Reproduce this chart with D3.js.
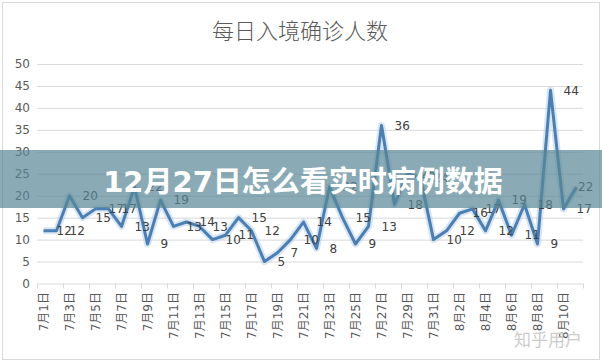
<!DOCTYPE html>
<html>
  <head>
    <meta charset="utf-8">
    <title>每日入境确诊人数</title>
    <script src="https://d3js.org/d3.v7.min.js"></script>
    <style>
      body { margin: 0; background: #fff; }
      svg { display: block; }
      text { font-family: "DejaVu Sans", "Noto Sans CJK SC", sans-serif; }
    </style>
  </head>
  <body>
    <div id="chart"></div>
    <script>
      // categories (every day, labels shown every other day)
      var dates = [
        "7月1日", "7月2日", "7月3日", "7月4日", "7月5日", "7月6日", "7月7日",
        "7月8日", "7月9日", "7月10日", "7月11日", "7月12日", "7月13日", "7月14日",
        "7月15日", "7月16日", "7月17日", "7月18日", "7月19日", "7月20日", "7月21日",
        "7月22日", "7月23日", "7月24日", "7月25日", "7月26日", "7月27日", "7月28日",
        "7月29日", "7月30日", "7月31日", "8月1日", "8月2日", "8月3日", "8月4日",
        "8月5日", "8月6日", "8月7日", "8月8日", "8月9日", "8月10日", "8月11日"
      ];

      // daily imported cases
      var cases = [
        12, 12, 20, 15, 17, 17, 13, 22, 9, 19, 13, 14, 13, 10,
        11, 15, 12, 5, 7, 10, 14, 8, 22, 15, 9, 13, 36, 18,
        25, 24, 10, 12, 16, 17, 12, 19, 11, 18, 9, 44, 17, 22
      ];

      var yTicks = [0, 5, 10, 15, 20, 25, 30, 35, 40, 45, 50];

      var title = "每日入境确诊人数";
      var banner = "12月27日怎么看实时病例数据";

      var svg = d3.select("#chart")
        .append("svg")
        .attr("width", 602)
        .attr("height", 362);

      // chart frame
      svg.append("rect")
        .attr("x", 2.5).attr("y", 2.5)
        .attr("width", 597).attr("height", 357)
        .attr("fill", "#fff")
        .attr("stroke", "#d9d9d9");

      var x = d3.scaleBand()
        .domain(dates)
        .range([37, 583]);

      var y = d3.scaleLinear()
        .domain([0, 50])
        .range([283.5, 64]);

      // gridlines
      svg.append("g")
        .selectAll("line")
        .data(yTicks.filter(function(d) { return d > 0; }))
        .enter()
        .append("line")
        .attr("x1", 37).attr("x2", 583)
        .attr("y1", function(d) { return y(d) + 0.5; })
        .attr("y2", function(d) { return y(d) + 0.5; })
        .attr("stroke", "#d9d9d9");

      // y axis labels
      var yAxis = svg.append("g")
        .attr("transform", "translate(30,0)")
        .call(d3.axisLeft(y).tickValues(yTicks).tickSize(0).tickPadding(0));
      yAxis.select(".domain").remove();
      yAxis.selectAll("text")
        .attr("font-family", "DejaVu Sans, sans-serif")
        .attr("font-size", 12)
        .attr("fill", "#595959");

      // x axis line and tick marks (every two categories)
      svg.append("line")
        .attr("x1", 37).attr("x2", 583)
        .attr("y1", y(0) + 0.5).attr("y2", y(0) + 0.5)
        .attr("stroke", "#d9d9d9");

      var tickDates = dates.filter(function(d, i) { return i % 2 === 0; });
      var tickPos = tickDates.map(function(d) { return x(d); }).concat([x.range()[1]]);
      svg.append("g")
        .selectAll("line")
        .data(tickPos)
        .enter()
        .append("line")
        .attr("x1", function(d) { return Math.round(d) + 0.5; })
        .attr("x2", function(d) { return Math.round(d) + 0.5; })
        .attr("y1", y(0)).attr("y2", y(0) + 5)
        .attr("stroke", "#d9d9d9");

      // x labels, rotated
      svg.append("g")
        .selectAll("text")
        .data(tickDates)
        .enter()
        .append("text")
        .attr("transform", function(d) {
          return "translate(" + (x(d) + x.bandwidth() / 2) + ",292) rotate(-90)";
        })
        .attr("text-anchor", "end")
        .attr("dy", "0.35em")
        .attr("font-size", 12)
        .attr("fill", "#595959")
        .text(function(d) { return d; });

      // the line
      var line = d3.line()
        .x(function(d, i) { return x(dates[i]) + x.bandwidth() / 2; })
        .y(function(d) { return y(d); });

      svg.append("path")
        .datum(cases)
        .attr("d", line)
        .attr("fill", "none")
        .attr("stroke", "#a9c6e2")
        .attr("stroke-opacity", 0.45)
        .attr("stroke-width", 7)
        .attr("stroke-linejoin", "round");

      svg.append("path")
        .datum(cases)
        .attr("d", line)
        .attr("fill", "none")
        .attr("stroke", "#4a7fb5")
        .attr("stroke-width", 3)
        .attr("stroke-linejoin", "round");

      // data labels (kept inside the chart area at the right edge)
      svg.append("g")
        .selectAll("text")
        .data(cases)
        .enter()
        .append("text")
        .attr("x", function(d, i) {
          return Math.min(x(dates[i]) + x.bandwidth() / 2 + 13, 578);
        })
        .attr("y", function(d) { return y(d); })
        .attr("dy", "0.35em")
        .attr("font-size", 12)
        .attr("fill", "#404040")
        .text(function(d) { return d; });

      // title
      svg.append("text")
        .attr("x", 300)
        .attr("y", 31)
        .attr("dy", "0.35em")
        .attr("text-anchor", "middle")
        .attr("font-family", "Noto Sans CJK SC, sans-serif")
        .attr("font-size", 22)
        .attr("font-weight", 300)
        .attr("fill", "#595959")
        .text(title);

      // overlay banner
      svg.append("rect")
        .attr("x", 0).attr("y", 150)
        .attr("width", 602).attr("height", 58)
        .attr("fill", "rgb(88,136,149)")
        .attr("fill-opacity", 0.7);

      svg.append("text")
        .attr("x", 303)
        .attr("y", 182)
        .attr("dy", "0.35em")
        .attr("text-anchor", "middle")
        .attr("font-family", "Noto Sans CJK SC, sans-serif")
        .attr("font-size", 29)
        .attr("font-weight", 700)
        .attr("fill", "#fff")
        .text(banner);

      // watermark
      svg.append("text")
        .attr("x", 548)
        .attr("y", 346)
        .attr("text-anchor", "middle")
        .attr("font-family", "Noto Sans CJK SC, sans-serif")
        .attr("font-size", 17)
        .attr("fill", "#cccccc")
        .text("知乎用户");
    </script>
  </body>
</html>
